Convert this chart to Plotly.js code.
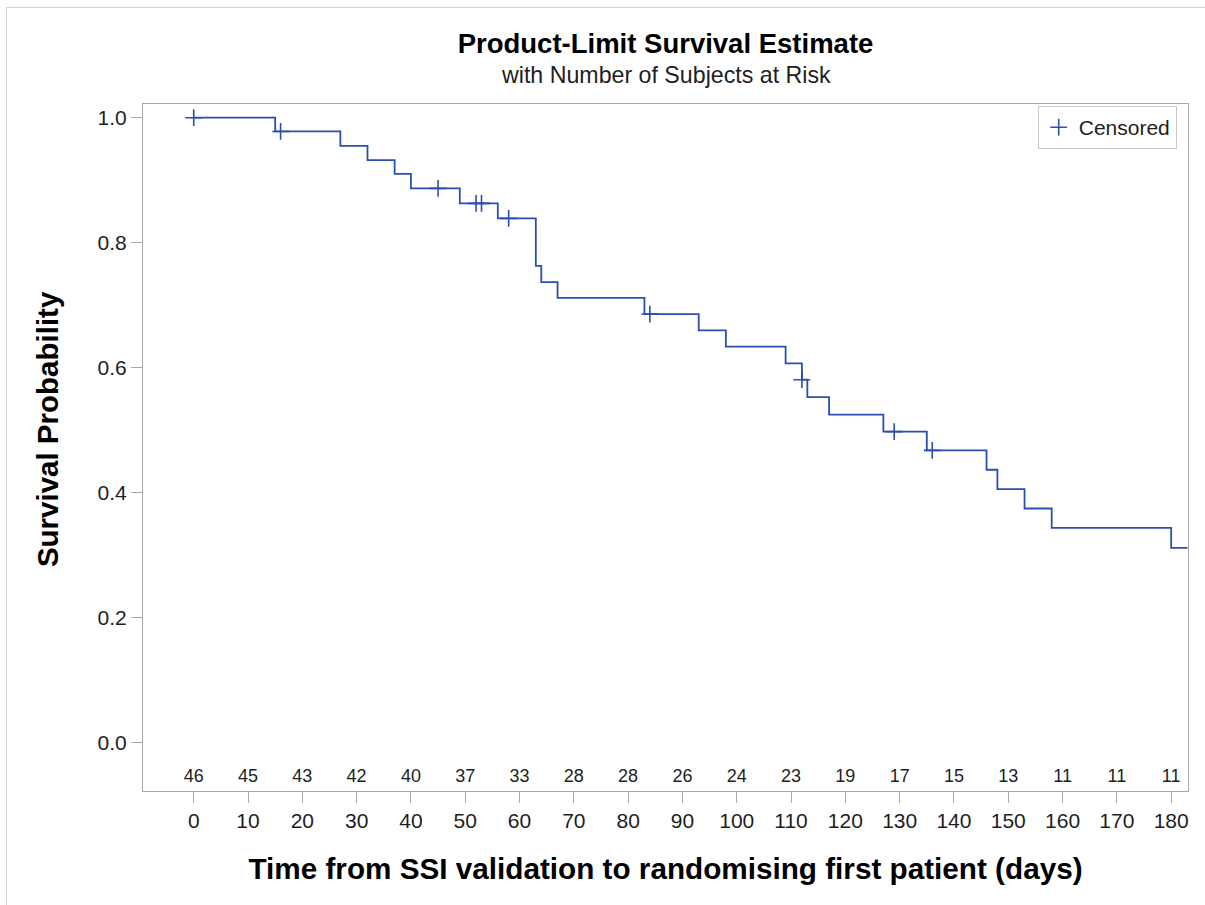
<!DOCTYPE html>
<html>
<head>
<meta charset="utf-8">
<script src="https://cdn.plot.ly/plotly-3.0.1.min.js"></script>
<style>
  html, body { margin: 0; padding: 0; background: #fff; }
  #wrap { position: relative; width: 1205px; height: 905px; }
  #chart { position: absolute; left: 0; top: 0; width: 1205px; height: 905px; }
  #frame { position: absolute; left: 6px; top: 7px; width: 1199px; height: 898px;
           border-top: 1px solid #d4d4d4; border-left: 1px solid #d4d4d4; box-sizing: border-box;
           pointer-events: none; }
</style>
</head>
<body>
<div id="wrap">
  <div id="chart"></div>
  <div id="frame"></div>
</div>
<script>
// Step points of the Kaplan-Meier curve (days, survival probability)
const stepTimes = [0, 15, 27, 32, 37, 40, 49, 56, 63, 64, 67, 83, 93, 98, 109, 112, 113, 117, 127, 135, 146, 148, 153, 158, 180, 183];
const stepSurvival = [1.0, 0.978, 0.955, 0.932, 0.910, 0.887, 0.863, 0.839, 0.763, 0.737, 0.712, 0.686, 0.660, 0.634, 0.607, 0.581, 0.553, 0.525, 0.498, 0.468, 0.437, 0.406, 0.375, 0.344, 0.312, 0.312];

// Censored observations
const censorTimes = [0, 16, 45, 52, 53, 58, 84, 112, 129, 136];
const censorSurvival = [1.0, 0.978, 0.887, 0.863, 0.863, 0.839, 0.686, 0.581, 0.498, 0.468];

// Number of subjects at risk
const riskTimes = [0, 10, 20, 30, 40, 50, 60, 70, 80, 90, 100, 110, 120, 130, 140, 150, 160, 170, 180];
const atRisk = [46, 45, 43, 42, 40, 37, 33, 28, 28, 26, 24, 23, 19, 17, 15, 13, 11, 11, 11];

// Tick labels
const xTickVals = [0, 10, 20, 30, 40, 50, 60, 70, 80, 90, 100, 110, 120, 130, 140, 150, 160, 170, 180];
const yTickVals = [0.0, 0.2, 0.4, 0.6, 0.8, 1.0];
const yTickText = ["0.0", "0.2", "0.4", "0.6", "0.8", "1.0"];

const FONT = "Liberation Sans, Arial, Helvetica, sans-serif";
const BLUE = "#2a4fb0";
const TXT = "#1e1e1e";
const AXIS = "#a8a8a8";
const RISK_ROW_Y = -0.055;

const traces = [
  {
    type: "scatter", mode: "lines",
    x: stepTimes, y: stepSurvival,
    line: { shape: "hv", color: BLUE, width: 1.8 },
    showlegend: false, hoverinfo: "x+y"
  },
  {
    type: "scatter", mode: "markers", name: "Censored",
    x: censorTimes, y: censorSurvival,
    marker: { symbol: "cross-thin-open", size: 12, color: BLUE, line: { color: BLUE, width: 1.6 } },
    showlegend: true, cliponaxis: false
  },
  {
    type: "scatter", mode: "text",
    x: riskTimes, y: riskTimes.map(() => RISK_ROW_Y),
    text: atRisk.map(String),
    textposition: "middle center",
    textfont: { family: FONT, size: 18, color: TXT },
    showlegend: false, hoverinfo: "skip"
  }
];

const layout = {
  width: 1205, height: 905,
  paper_bgcolor: "#ffffff", plot_bgcolor: "#ffffff",
  font: { family: FONT, color: TXT },
  margin: { l: 143, r: 17, t: 104, b: 114, pad: 0 },
  title: {
    text: "<b>Product-Limit Survival Estimate</b>",
    font: { family: FONT, size: 27.5, color: "#000" },
    x: 0.5, xref: "paper", xanchor: "center",
    y: 1 - 34 / 905, yref: "container", yanchor: "top"
  },
  annotations: [
    {
      text: "with Number of Subjects at Risk",
      xref: "paper", yref: "paper", x: 0.5, y: 1.0422,
      xanchor: "center", yanchor: "middle", showarrow: false,
      font: { family: FONT, size: 23.2, color: TXT }
    },
    {
      text: "<b>Survival Probability</b>",
      xref: "paper", yref: "paper", x: -0.0919, y: 0.5267,
      xanchor: "center", yanchor: "middle", showarrow: false, textangle: -90,
      font: { family: FONT, size: 29.5, color: "#000" }
    }
  ],
  xaxis: {
    range: [-9.34, 183.1],
    tickmode: "array", tickvals: xTickVals,
    ticks: "outside", ticklen: 11, tickwidth: 1, tickcolor: AXIS,
    tickfont: { family: FONT, size: 21, color: TXT },
    showline: true, linecolor: AXIS, linewidth: 1, mirror: true,
    showgrid: false, zeroline: false,
    title: { text: "<b>Time from SSI validation to randomising first patient (days)</b>",
             font: { family: FONT, size: 29.7, color: "#000" }, standoff: 27 }
  },
  yaxis: {
    range: [-0.0768, 1.0219],
    tickmode: "array", tickvals: yTickVals, ticktext: yTickText,
    ticks: "outside", ticklen: 11, tickwidth: 1, tickcolor: AXIS,
    tickfont: { family: FONT, size: 21, color: TXT },
    showline: true, linecolor: AXIS, linewidth: 1, mirror: true,
    showgrid: false, zeroline: false
  },
  legend: {
    x: 0.9892, xanchor: "right", y: 0.997, yanchor: "top",
    xref: "paper", yref: "paper",
    bgcolor: "#ffffff", bordercolor: "#c8c8c8", borderwidth: 1,
    font: { family: FONT, size: 21, color: TXT }
  },
  showlegend: true
};

Plotly.newPlot("chart", traces, layout, { displayModeBar: false, staticPlot: true });
</script>
</body>
</html>
